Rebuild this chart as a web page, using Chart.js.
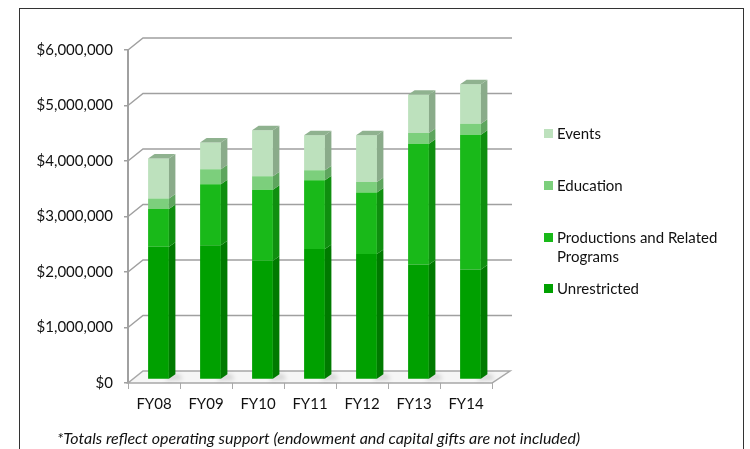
<!DOCTYPE html>
<html>
<head>
<meta charset="utf-8">
<script src="https://cdn.jsdelivr.net/npm/chart.js@4"></script>
<style>
  html, body { margin: 0; padding: 0; background: #fff; }
  body { width: 750px; height: 449px; position: relative; overflow: hidden; font-family: Lato, "Open Sans", sans-serif; }
  .frame { position: absolute; left: 19px; top: 8px; width: 725px; height: 460px; border: 1px solid #333; box-sizing: border-box; }
  #chart { position: absolute; left: 0; top: 0; }
  .legend { position: absolute; left: 544px; top: 0; font-size: 15px; color: #111; }
  .legend-item { position: absolute; left: 0; white-space: nowrap; }
  .legend-item i { position: absolute; left: 0; top: 5px; width: 9px; height: 9px; }
  .legend-item span { position: absolute; left: 13px; top: 0; line-height: 19px; }
  .note { position: absolute; left: 57px; top: 428px; font-size: 16px; font-style: italic; color: #111; white-space: nowrap; }
</style>
</head>
<body>
<div class="frame"></div>
<canvas id="chart" width="750" height="449"></canvas>
<div class="legend">
  <div class="legend-item" style="top:124px"><i style="background:#bde1bd"></i><span>Events</span></div>
  <div class="legend-item" style="top:176px"><i style="background:#7ccf7c"></i><span>Education</span></div>
  <div class="legend-item" style="top:228px"><i style="background:#19b919"></i><span>Productions and Related<br>Programs</span></div>
  <div class="legend-item" style="top:279px"><i style="background:#00a000"></i><span>Unrestricted</span></div>
</div>
<div class="note">*Totals reflect operating support (endowment and capital gifts are not included)</div>

<script>
// values (dollars)
const years = ["FY08", "FY09", "FY10", "FY11", "FY12", "FY13", "FY14"];
const unrestricted = [2390000, 2420000, 2140000, 2350000, 2260000, 2070000, 1980000];
const productions = [680000, 1100000, 1280000, 1240000, 1110000, 2180000, 2430000];
const education = [190000, 270000, 240000, 180000, 190000, 190000, 200000];
const events = [720000, 480000, 830000, 630000, 840000, 690000, 710000];

// side/top shades for the fake 3D faces, same order as the datasets
const sideColors = ["#007a00", "#0f8f0f", "#5ea55e", "#8aab8a"];
const topColor = "#8fb28f";

// back wall offset and bar depth (px)
const WALL = { dx: 15, dy: -12 };
const BAR = { dx: 6.5, dy: -4.5 };
const SHIFT = { x: 4.5, y: -3.5 };

const money = (v) => "$" + v.toLocaleString("en-US");

const threeD = {
  id: "threeD",
  beforeDatasetsDraw(chart) {
    const { ctx, chartArea: a, scales } = chart;
    const y = scales.y;
    ctx.save();
    // floor
    ctx.beginPath();
    ctx.moveTo(a.left, a.bottom);
    ctx.lineTo(a.right, a.bottom);
    ctx.lineTo(a.right + WALL.dx + 3, a.bottom + WALL.dy);
    ctx.lineTo(a.left + WALL.dx, a.bottom + WALL.dy);
    ctx.closePath();
    ctx.fillStyle = "#f6f6f6";
    ctx.fill();
    ctx.strokeStyle = "#a8a8a8";
    ctx.lineWidth = 1.5;
    ctx.stroke();
    // back wall gridlines
    y.ticks.forEach((t) => {
      if (t.value === 0) return;
      const py = y.getPixelForValue(t.value);
      ctx.beginPath();
      ctx.moveTo(a.left, py);
      ctx.lineTo(a.left + WALL.dx, py + WALL.dy);
      ctx.lineTo(a.right + WALL.dx + 5, py + WALL.dy);
      ctx.strokeStyle = "#a0a0a0";
      ctx.lineWidth = 1.5;
      ctx.stroke();
    });
    // soft shadows on the floor
    const base = chart.getDatasetMeta(0);
    ctx.filter = "blur(2px)";
    ctx.fillStyle = "rgba(0,0,0,0.13)";
    base.data.forEach((bar) => {
      const r = bar.x + bar.width / 2 + SHIFT.x;
      const b = bar.base + SHIFT.y;
      ctx.beginPath();
      ctx.moveTo(r - 4, b + 2);
      ctx.lineTo(r + 14, b + 1);
      ctx.lineTo(r + 10, b - 5);
      ctx.lineTo(r, b - 4);
      ctx.closePath();
      ctx.fill();
    });
    ctx.filter = "none";
    ctx.restore();
    ctx.save();
    ctx.translate(SHIFT.x, SHIFT.y);
  },
  afterDatasetsDraw(chart) {
    const { ctx } = chart;
    const n = chart.data.datasets.length;
    for (let d = 0; d < n; d++) {
      const meta = chart.getDatasetMeta(d);
      meta.data.forEach((bar) => {
        const l = bar.x - bar.width / 2;
        const r = bar.x + bar.width / 2;
        const top = bar.y;
        const bot = bar.base;
        ctx.beginPath();
        ctx.moveTo(r, top);
        ctx.lineTo(r + BAR.dx, top + BAR.dy);
        ctx.lineTo(r + BAR.dx, bot + BAR.dy);
        ctx.lineTo(r, bot);
        ctx.closePath();
        ctx.fillStyle = sideColors[d];
        ctx.fill();
        if (d === n - 1) {
          ctx.beginPath();
          ctx.moveTo(l, top);
          ctx.lineTo(l + BAR.dx, top + BAR.dy);
          ctx.lineTo(r + BAR.dx, top + BAR.dy);
          ctx.lineTo(r, top);
          ctx.closePath();
          ctx.fillStyle = topColor;
          ctx.fill();
        }
      });
    }
    ctx.restore();
  },
};

const ds = (label, data, color) => ({
  label,
  data,
  backgroundColor: color,
  borderWidth: 0,
  barPercentage: 0.4,
  categoryPercentage: 1,
});

new Chart(document.getElementById("chart"), {
  type: "bar",
  data: {
    labels: years,
    datasets: [
      ds("Unrestricted", unrestricted, "#00a000"),
      ds("Productions and Related Programs", productions, "#19b919"),
      ds("Education", education, "#7ccf7c"),
      ds("Events", events, "#bde1bd"),
    ],
  },
  options: {
    responsive: false,
    animation: false,
    layout: { padding: { left: 0, right: 258, top: 50, bottom: 0 } },
    plugins: { legend: { display: false }, tooltip: { enabled: false } },
    scales: {
      x: {
        stacked: true,
        afterFit: (s) => { s.height = 66; },
        border: { display: false },
        grid: { drawOnChartArea: false, tickLength: 6, color: "#aaa", lineWidth: 1 },
        ticks: { color: "#111", padding: 6, font: { family: "Lato", size: 15 } },
      },
      y: {
        stacked: true,
        min: 0,
        max: 6000000,
        afterFit: (s) => { s.width = 128; },
        border: { display: true, color: "#a0a0a0", width: 2 },
        grid: { drawOnChartArea: false, tickLength: 4, color: "#a0a0a0", lineWidth: 1.5 },
        ticks: {
          stepSize: 1000000,
          padding: 11,
          color: "#111",
          font: { family: "Lato", size: 15 },
          callback: (v) => money(v),
        },
      },
    },
  },
  plugins: [threeD],
});
</script>
</body>
</html>
